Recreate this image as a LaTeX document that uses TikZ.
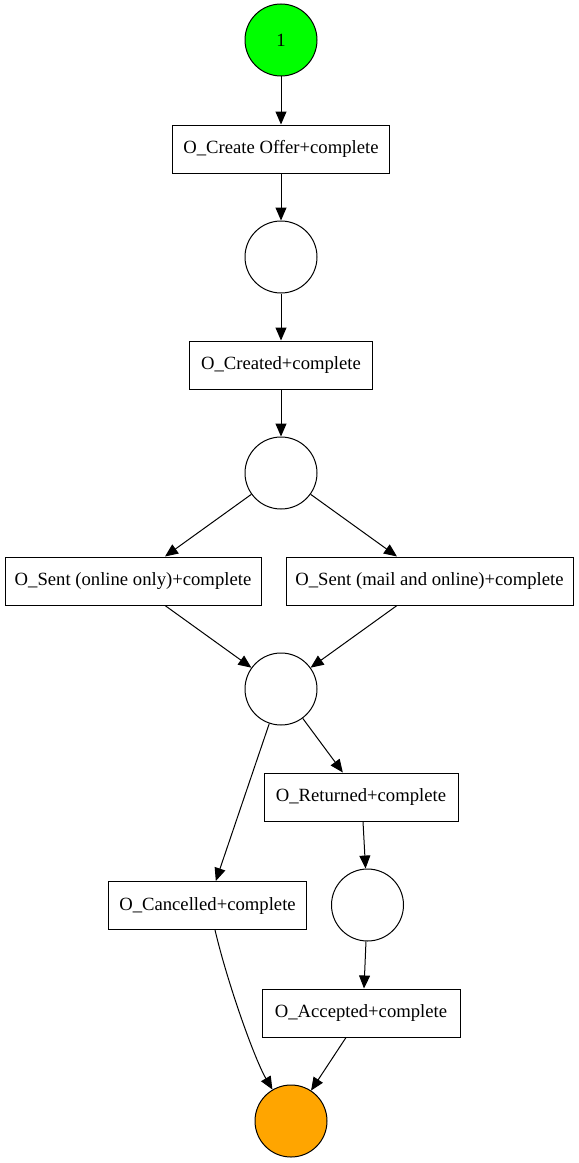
\documentclass[tikz,border=0pt]{standalone}
\usepackage{fontspec}
\setmainfont{Liberation Serif}
\usetikzlibrary{arrows.meta}
\begin{document}
\begin{tikzpicture}[x=0.75pt,y=-0.75pt,
  place/.style={circle,draw,line width=0.75pt,minimum size=54pt,inner sep=0pt},
  trans/.style={rectangle,draw,line width=0.75pt,minimum height=36pt,inner sep=0pt},
  arc/.style={line width=0.75pt,-{Triangle[length=9.75pt,width=8.25pt]}},
  every node/.style={font=\fontsize{14pt}{16pt}\selectfont}]
\useasboundingbox (0,0) rectangle (578,1163);
% places
\node[place,fill={rgb,255:red,0;green,255;blue,0}] (p0) at (281,40) {1};
\node[place] (p1) at (281,257) {};
\node[place] (p2) at (281,473) {};
\node[place] (p3) at (281,689) {};
\node[place] (p4) at (367.5,905) {};
\node[place,fill={rgb,255:red,255;green,165;blue,0}] (pend) at (291,1121) {};
% transitions
\node[trans,minimum width=162.75pt] (tcreate) at (281,149) {O\_Create Offer+complete};
\node[trans,minimum width=137.25pt] (tcreated) at (281,365) {O\_Created+complete};
\node[trans,minimum width=192pt] (tonline) at (133,581) {O\_Sent (online only)+complete};
\node[trans,minimum width=215.25pt] (tmail) at (429.5,581) {O\_Sent (mail and online)+complete};
\node[trans,minimum width=145.5pt] (tret) at (361,797) {O\_Returned+complete};
\node[trans,minimum width=148.5pt] (tcanc) at (207.5,905.5) {O\_Cancelled+complete};
\node[trans,minimum width=148.5pt] (tacc) at (361,1013) {O\_Accepted+complete};
% arcs
\draw[arc] (p0) -- (tcreate);
\draw[arc] (tcreate) -- (p1);
\draw[arc] (p1) -- (tcreated);
\draw[arc] (tcreated) -- (p2);
\draw[arc] (p2) -- (tonline.north -| 165,0);
\draw[arc] (p2) -- (tmail.north -| 397,0);
\draw[arc] (tonline.south -| 165,0) -- (p3);
\draw[arc] (tmail.south -| 397,0) -- (p3);
\draw[arc] (p3) -- (tret);
\draw[arc] (p3) -- (tcanc);
\draw[arc] (tret.south -| 363,0) -- (p4);
\draw[arc] (p4) -- (tacc.north -| 364,0);
\draw[arc] (tacc.south -| 346,0) -- (pend);
\draw[arc] (tcanc.south -| 215,0) .. controls (228,985) and (255,1060) .. (pend);
\end{tikzpicture}
\end{document}
